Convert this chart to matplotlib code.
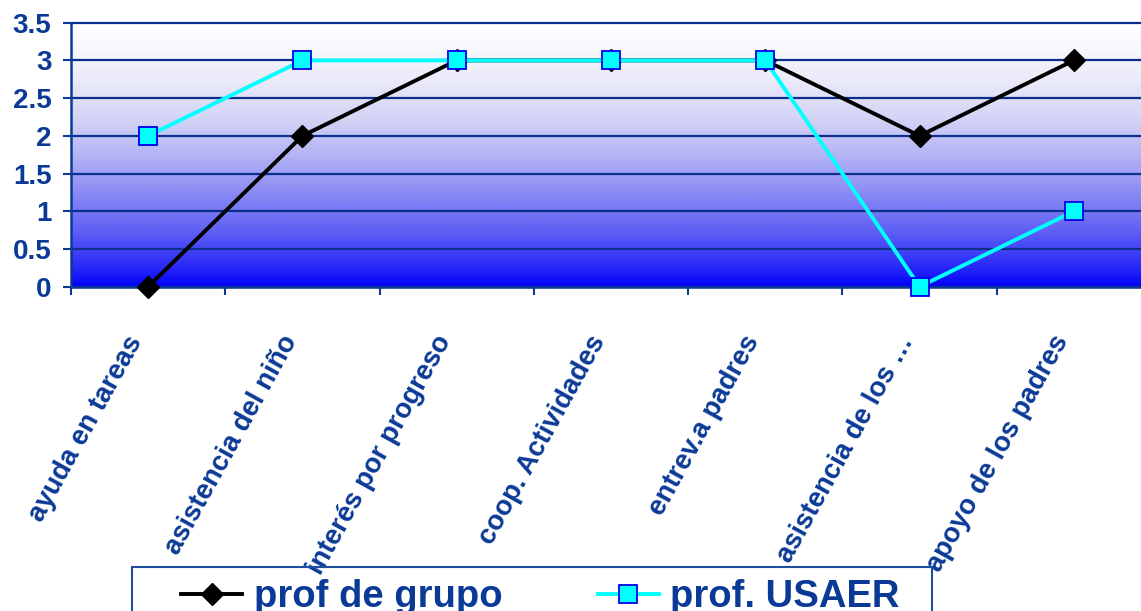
import matplotlib.pyplot as plt
from matplotlib.patches import Rectangle
from matplotlib.colors import LinearSegmentedColormap
import numpy as np

plt.rcParams['font.family'] = ['Liberation Sans', 'DejaVu Sans']
plt.rcParams['font.weight'] = 'bold'

categorias = ["ayuda en tareas", "asistencia del niño", "interés por progreso",
              "coop. Actividades", "entrev.a padres", "asistencia de los …",
              "apoyo de los padres"]
prof_grupo = [0, 2, 3, 3, 3, 2, 3]
prof_usaer = [2, 3, 3, 3, 3, 0, 1]
yticks = [0, 0.5, 1, 1.5, 2, 2.5, 3, 3.5]

azul = '#0A3A96'
grid_azul = '#0B2F8A'

W, H = 1141, 611
fig = plt.figure(figsize=(W / 100, H / 100), dpi=100)
# plot area runs past the right edge
ax = fig.add_axes([71 / W, 1 - 286.7 / H, (1151 - 71) / W, 264 / H])

x = np.arange(len(categorias))
ax.set_xlim(-0.5, len(categorias) - 0.5)
ax.set_ylim(0, 3.5)

# blue-to-white background, bottom to top
paradas = [(0.0, (0, 0, 250)), (0.07, (40, 40, 248)), (0.21, (95, 95, 245)),
           (0.36, (140, 140, 245)), (0.5, (180, 180, 245)), (0.64, (212, 212, 246)),
           (0.79, (235, 235, 250)), (0.93, (250, 250, 255)), (1.0, (255, 255, 255))]
cmap = LinearSegmentedColormap.from_list(
    'fondo', [(p, tuple(c / 255 for c in rgb)) for p, rgb in paradas])
t = np.linspace(0, 1, 256).reshape(-1, 1)
ax.imshow(t, cmap=cmap, vmin=0, vmax=1, origin='lower', aspect='auto',
          extent=(-0.5, len(categorias) - 0.5, 0, 3.5), zorder=0)

for yv in yticks:
    ax.axhline(yv, color=grid_azul, lw=1.6, zorder=1, clip_on=False)

ax.plot(x, prof_grupo, color='black', lw=2.8, marker='D', markersize=11.5,
        markerfacecolor='black', markeredgecolor='black', zorder=3,
        label='prof de grupo', clip_on=False)
ax.plot(x, prof_usaer, color='#00FFFF', lw=2.8, marker='s', markersize=13.5,
        markerfacecolor='#00FFFF', markeredgecolor='#0000EE', markeredgewidth=1.3,
        zorder=4, label='prof. USAER', clip_on=False)

for s in ['top', 'right']:
    ax.spines[s].set_visible(False)
for s in ['left', 'bottom']:
    ax.spines[s].set_color(azul)
    ax.spines[s].set_linewidth(1.8)

ax.set_yticks(yticks)
ax.set_yticklabels(['0', '0.5', '1', '1.5', '2', '2.5', '3', '3.5'],
                   fontsize=20, color=azul, fontweight='bold')
ax.tick_params(axis='y', length=6, width=1.5, color=azul, pad=8)

ax.set_xticks(x)
ax.set_xticks(np.arange(-0.5, len(categorias)), minor=True)
ax.set_xticklabels(categorias, rotation=61, ha='right', va='bottom',
                   rotation_mode='anchor', fontsize=19.8, color=azul, fontweight='bold')
ax.tick_params(axis='x', which='major', length=0, pad=41)
ax.tick_params(axis='x', which='minor', length=6, width=1.5, color=azul)

# legend box, cut off by the bottom edge
fig.patches.append(Rectangle((132 / W, -0.05), 800 / W, 0.05 + 1 - 567 / H,
                             transform=fig.transFigure, fill=False,
                             edgecolor='#1F4E9F', lw=1.5, zorder=5))
fig.legend(loc='center left', bbox_to_anchor=(162 / W, 1 - 597 / H),
           ncol=2, frameon=False, borderpad=0,
           handlelength=1.6, handletextpad=0.3, columnspacing=2.5,
           labelcolor=azul, prop={'weight': 'bold', 'size': 27.5})

fig.savefig('out.png', dpi=100)
